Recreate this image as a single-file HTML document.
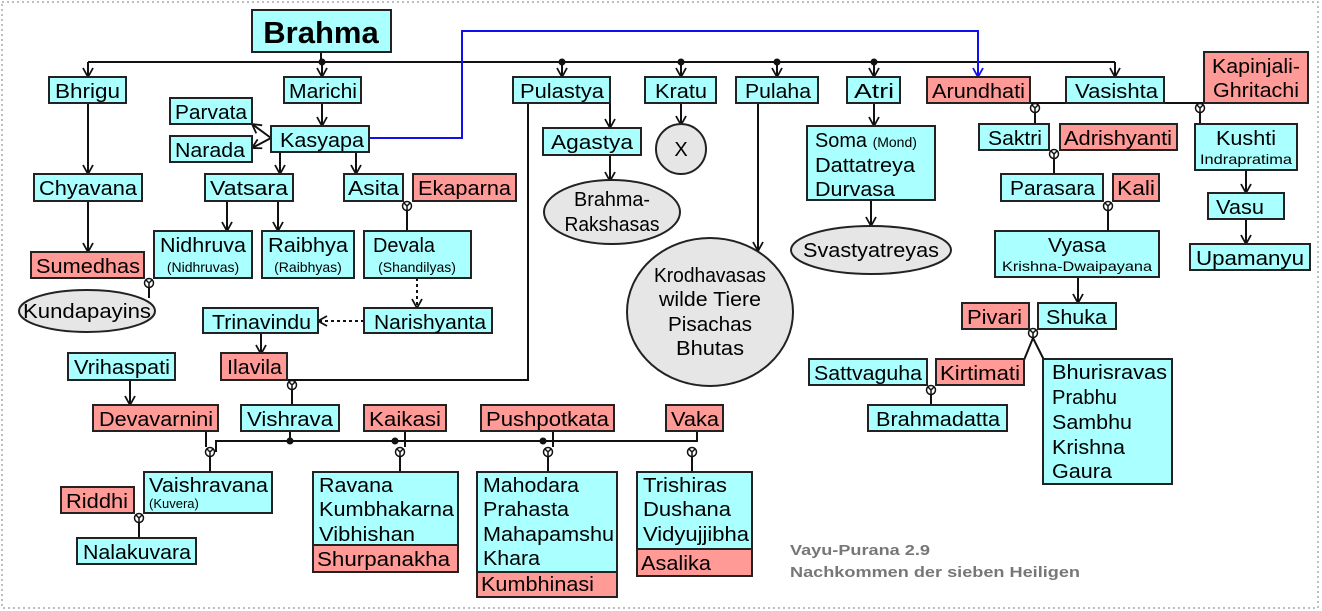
<!DOCTYPE html>
<html><head><meta charset="utf-8"><style>
html,body{margin:0;padding:0;background:#fff}
svg{display:block}
text{font-family:"Liberation Sans",Arial,sans-serif;font-size:20px;fill:#000}
.s{font-size:14px}
.c{fill:#aaffff;stroke:#222;stroke-width:2}
.r{fill:#ff9a96;stroke:#222;stroke-width:2}
.e{fill:#e6e6e6;stroke:#222;stroke-width:2}
.l{fill:none;stroke:#111;stroke-width:2}
.d{fill:none;stroke:#111;stroke-width:2;stroke-dasharray:3,3}
</style></head><body>
<svg width="1322" height="611" viewBox="0 0 1322 611" xmlns="http://www.w3.org/2000/svg">
<defs>
<marker id="a" markerWidth="12" markerHeight="12" refX="10" refY="6" orient="auto" markerUnits="userSpaceOnUse"><path d="M1,1 L10,6 L1,11" fill="none" stroke="#111" stroke-width="1.8"/></marker>
<marker id="b" markerWidth="12" markerHeight="12" refX="10" refY="6" orient="auto" markerUnits="userSpaceOnUse"><path d="M1,1 L10,6 L1,11" fill="none" stroke="#1010ee" stroke-width="1.8"/></marker>
<g id="m"><circle cx="0" cy="0" r="4.5" fill="#fff" stroke="#111" stroke-width="1.5"/><path d="M-3,-3 L0,0 L3,-3 M0,0 L0,4.5" stroke="#111" stroke-width="1.5" fill="none"/></g>
</defs>
<rect x="2" y="2" width="1316" height="606" fill="none" stroke="#aaa" stroke-width="1.5" stroke-dasharray="2,3"/>

<!-- connectors -->
<path class="l" d="M88,62 H1115"/>
<path class="l" d="M321,52 V62"/>
<g marker-end="url(#a)">
<path class="l" d="M88,62 V77"/><path class="l" d="M322,62 V77"/><path class="l" d="M562,62 V77"/>
<path class="l" d="M681,62 V77"/><path class="l" d="M777,62 V77"/><path class="l" d="M874,62 V77"/>
<path class="l" d="M1115,62 V77"/>
<path class="l" d="M88,103 V174"/><path class="l" d="M88,201 V252"/>
<path class="l" d="M322,103 V126"/><path class="l" d="M280,152 V174"/><path class="l" d="M356,152 V174"/>
<path class="l" d="M271,138 L252,124"/><path class="l" d="M271,138 L252,148"/>
<path class="l" d="M227,201 V231"/><path class="l" d="M278,201 V231"/>
<path class="l" d="M610,103 V128"/><path class="l" d="M610,155 V181"/>
<path class="l" d="M681,103 V125"/><path class="l" d="M758,103 V251"/>
<path class="l" d="M874,103 V126"/><path class="l" d="M871,200 V226"/>
<path class="l" d="M1246,170 V193"/><path class="l" d="M1246,219 V244"/>
<path class="l" d="M1078,277 V303"/>
<path class="l" d="M261,333 V354"/><path class="l" d="M130,380 V405"/>
<path class="d" d="M417,278 V308"/><path class="d" d="M364,321 H318"/>
</g>
<path d="M369,138 H462 V31 H978 V77" fill="none" stroke="#1010ee" stroke-width="2" marker-end="url(#b)"/>
<circle cx="322" cy="62" r="3.5" fill="#111"/><circle cx="562" cy="62" r="3.5" fill="#111"/>
<circle cx="681" cy="62" r="3.5" fill="#111"/><circle cx="777" cy="62" r="3.5" fill="#111"/><circle cx="874" cy="62" r="3.5" fill="#111"/>

<path class="l" d="M407,201 V231"/><use href="#m" x="407" y="206"/>
<path class="l" d="M149,278 V298"/><use href="#m" x="149" y="283"/>
<path class="l" d="M528,103 V380 H287"/><path class="l" d="M292,380 V405"/><use href="#m" x="292" y="385"/>
<path class="l" d="M206,431 V447"/><path class="l" d="M216,452 V441 H697 V431"/>
<path class="l" d="M290,431 V441"/><circle cx="290" cy="441" r="3.5" fill="#111"/>
<path class="l" d="M405,431 V447"/><circle cx="395" cy="441" r="3.5" fill="#111"/>
<path class="l" d="M553,431 V447"/><circle cx="543" cy="441" r="3.5" fill="#111"/>
<path class="l" d="M210,452 V472"/><use href="#m" x="210" y="452"/>
<path class="l" d="M400,452 V472"/><use href="#m" x="400" y="452"/>
<path class="l" d="M548,452 V472"/><use href="#m" x="548" y="452"/>
<path class="l" d="M692,452 V472"/><use href="#m" x="692" y="452"/>
<path class="l" d="M139,513 V538"/><use href="#m" x="139" y="518"/>
<path class="l" d="M1030,103 H1204"/>
<path class="l" d="M1035,108 V124"/><use href="#m" x="1035" y="108"/>
<path class="l" d="M1200,108 V124"/><use href="#m" x="1200" y="108"/>
<path class="l" d="M1054,154 V174"/><use href="#m" x="1054" y="154"/>
<path class="l" d="M1108,206 V231"/><use href="#m" x="1108" y="206"/>
<path class="l" d="M1024,360 L1033,338 L1044,360"/><use href="#m" x="1033" y="333"/>
<path class="l" d="M931,390 V405"/><use href="#m" x="931" y="390"/>

<!-- boxes -->
<rect class="c" x="252" y="10" width="139" height="42"/>
<text x="321" y="43" text-anchor="middle" style="font-size:31px;font-weight:bold">Brahma</text>
<rect class="c" x="49" y="77" width="77" height="26"/><text x="55" y="98" textLength="65" lengthAdjust="spacingAndGlyphs">Bhrigu</text>
<rect class="c" x="284" y="77" width="77" height="26"/><text x="289" y="98" textLength="68" lengthAdjust="spacingAndGlyphs">Marichi</text>
<rect class="c" x="170" y="98" width="82" height="26"/><text x="175" y="119" textLength="72" lengthAdjust="spacingAndGlyphs">Parvata</text>
<rect class="c" x="170" y="136" width="82" height="26"/><text x="175" y="157" textLength="70" lengthAdjust="spacingAndGlyphs">Narada</text>
<rect class="c" x="271" y="126" width="98" height="26"/><text x="280" y="147" textLength="84" lengthAdjust="spacingAndGlyphs">Kasyapa</text>
<rect class="c" x="34" y="174" width="108" height="27"/><text x="39" y="195" textLength="98" lengthAdjust="spacingAndGlyphs">Chyavana</text>
<rect class="c" x="205" y="174" width="88" height="27"/><text x="210" y="195" textLength="78" lengthAdjust="spacingAndGlyphs">Vatsara</text>
<rect class="c" x="344" y="174" width="59" height="27"/><text x="348" y="195" textLength="51" lengthAdjust="spacingAndGlyphs">Asita</text>
<rect class="r" x="413" y="174" width="103" height="27"/><text x="418" y="195" textLength="93" lengthAdjust="spacingAndGlyphs">Ekaparna</text>
<rect class="r" x="31" y="252" width="113" height="26"/><text x="36" y="273" textLength="104" lengthAdjust="spacingAndGlyphs">Sumedhas</text>
<rect class="c" x="154" y="231" width="98" height="47"/><text x="203" y="252" text-anchor="middle" textLength="86" lengthAdjust="spacingAndGlyphs">Nidhruva</text><text class="s" x="203" y="272" text-anchor="middle">(Nidhruvas)</text>
<rect class="c" x="262" y="231" width="92" height="47"/><text x="308" y="252" text-anchor="middle" textLength="80" lengthAdjust="spacingAndGlyphs">Raibhya</text><text class="s" x="308" y="272" text-anchor="middle">(Raibhyas)</text>
<rect class="c" x="364" y="231" width="107" height="47"/><text x="373" y="252" textLength="62" lengthAdjust="spacingAndGlyphs">Devala</text><text class="s" x="417" y="272" text-anchor="middle">(Shandilyas)</text>
<ellipse class="e" cx="87" cy="311" rx="68" ry="21"/><text x="87" y="318" text-anchor="middle" textLength="128" lengthAdjust="spacingAndGlyphs">Kundapayins</text>
<rect class="c" x="513" y="77" width="97" height="26"/><text x="520" y="98" textLength="84" lengthAdjust="spacingAndGlyphs">Pulastya</text>
<rect class="c" x="543" y="128" width="98" height="27"/><text x="551" y="149" textLength="82" lengthAdjust="spacingAndGlyphs">Agastya</text>
<ellipse class="e" cx="612" cy="212" rx="68" ry="32"/><text x="612" y="206" text-anchor="middle" textLength="76" lengthAdjust="spacingAndGlyphs">Brahma-</text><text x="612" y="231" text-anchor="middle" textLength="95" lengthAdjust="spacingAndGlyphs">Rakshasas</text>
<rect class="c" x="645" y="77" width="71" height="26"/><text x="655" y="98" textLength="52" lengthAdjust="spacingAndGlyphs">Kratu</text>
<circle class="e" cx="681" cy="149" r="25"/><text x="681" y="156" text-anchor="middle">X</text>
<rect class="c" x="736" y="77" width="82" height="26"/><text x="745" y="98" textLength="66" lengthAdjust="spacingAndGlyphs">Pulaha</text>
<ellipse class="e" cx="710" cy="312" rx="83" ry="74"/>
<text x="710" y="282" text-anchor="middle" textLength="112" lengthAdjust="spacingAndGlyphs">Krodhavasas</text>
<text x="710" y="306" text-anchor="middle" textLength="102" lengthAdjust="spacingAndGlyphs">wilde Tiere</text>
<text x="710" y="331" text-anchor="middle" textLength="84" lengthAdjust="spacingAndGlyphs">Pisachas</text>
<text x="710" y="355" text-anchor="middle" textLength="68" lengthAdjust="spacingAndGlyphs">Bhutas</text>
<rect class="c" x="847" y="77" width="53" height="26"/><text x="854" y="98" textLength="40" lengthAdjust="spacingAndGlyphs">Atri</text>
<rect class="c" x="807" y="126" width="128" height="74"/>
<text x="815" y="147"><tspan textLength="52" lengthAdjust="spacingAndGlyphs">Soma</tspan> <tspan class="s">(Mond)</tspan></text>
<text x="815" y="172" textLength="100" lengthAdjust="spacingAndGlyphs">Dattatreya</text>
<text x="815" y="196" textLength="80" lengthAdjust="spacingAndGlyphs">Durvasa</text>
<ellipse class="e" cx="871" cy="250" rx="80" ry="24"/><text x="871" y="257" text-anchor="middle" textLength="136" lengthAdjust="spacingAndGlyphs">Svastyatreyas</text>
<rect class="r" x="927" y="77" width="103" height="26"/><text x="932" y="98" textLength="93" lengthAdjust="spacingAndGlyphs">Arundhati</text>
<rect class="c" x="1066" y="77" width="98" height="26"/><text x="1075" y="98" textLength="83" lengthAdjust="spacingAndGlyphs">Vasishta</text>
<rect class="r" x="1204" y="52" width="104" height="51"/><text x="1256" y="73" text-anchor="middle" textLength="88" lengthAdjust="spacingAndGlyphs">Kapinjali-</text><text x="1256" y="97" text-anchor="middle" textLength="86" lengthAdjust="spacingAndGlyphs">Ghritachi</text>
<rect class="c" x="979" y="124" width="70" height="26"/><text x="988" y="145" textLength="54" lengthAdjust="spacingAndGlyphs">Saktri</text>
<rect class="r" x="1060" y="124" width="117" height="26"/><text x="1064" y="145" textLength="108" lengthAdjust="spacingAndGlyphs">Adrishyanti</text>
<rect class="c" x="1195" y="124" width="102" height="46"/><text x="1246" y="145" text-anchor="middle" textLength="60" lengthAdjust="spacingAndGlyphs">Kushti</text><text class="s" x="1246" y="164" text-anchor="middle" textLength="92" lengthAdjust="spacingAndGlyphs">Indrapratima</text>
<rect class="c" x="1001" y="174" width="102" height="27"/><text x="1010" y="195" textLength="85" lengthAdjust="spacingAndGlyphs">Parasara</text>
<rect class="r" x="1113" y="174" width="46" height="27"/><text x="1117" y="195" textLength="38" lengthAdjust="spacingAndGlyphs">Kali</text>
<rect class="c" x="995" y="231" width="164" height="46"/><text x="1077" y="252" text-anchor="middle" textLength="58" lengthAdjust="spacingAndGlyphs">Vyasa</text><text class="s" x="1077" y="271" text-anchor="middle" textLength="150" lengthAdjust="spacingAndGlyphs">Krishna-Dwaipayana</text>
<rect class="c" x="1208" y="193" width="76" height="26"/><text x="1216" y="214" textLength="48" lengthAdjust="spacingAndGlyphs">Vasu</text>
<rect class="c" x="1190" y="244" width="120" height="26"/><text x="1196" y="265" textLength="108" lengthAdjust="spacingAndGlyphs">Upamanyu</text>
<rect class="r" x="962" y="303" width="67" height="26"/><text x="967" y="324" textLength="55" lengthAdjust="spacingAndGlyphs">Pivari</text>
<rect class="c" x="1038" y="303" width="78" height="26"/><text x="1046" y="324" textLength="61" lengthAdjust="spacingAndGlyphs">Shuka</text>
<rect class="c" x="809" y="359" width="118" height="26"/><text x="814" y="380" textLength="108" lengthAdjust="spacingAndGlyphs">Sattvaguha</text>
<rect class="r" x="936" y="359" width="88" height="26"/><text x="940" y="380" textLength="80" lengthAdjust="spacingAndGlyphs">Kirtimati</text>
<rect class="c" x="868" y="405" width="139" height="26"/><text x="876" y="426" textLength="124" lengthAdjust="spacingAndGlyphs">Brahmadatta</text>
<rect class="c" x="1043" y="359" width="129" height="125"/>
<text x="1052" y="379" textLength="115" lengthAdjust="spacingAndGlyphs">Bhurisravas</text>
<text x="1052" y="404" textLength="65" lengthAdjust="spacingAndGlyphs">Prabhu</text>
<text x="1052" y="429" textLength="80" lengthAdjust="spacingAndGlyphs">Sambhu</text>
<text x="1052" y="454" textLength="73" lengthAdjust="spacingAndGlyphs">Krishna</text>
<text x="1052" y="478" textLength="60" lengthAdjust="spacingAndGlyphs">Gaura</text>

<rect class="c" x="203" y="308" width="115" height="25"/><text x="212" y="329" textLength="99" lengthAdjust="spacingAndGlyphs">Trinavindu</text>
<rect class="c" x="364" y="308" width="128" height="25"/><text x="374" y="329" textLength="112" lengthAdjust="spacingAndGlyphs">Narishyanta</text>
<rect class="c" x="68" y="353" width="107" height="27"/><text x="74" y="374" textLength="96" lengthAdjust="spacingAndGlyphs">Vrihaspati</text>
<rect class="r" x="221" y="353" width="66" height="27"/><text x="227" y="374" textLength="55" lengthAdjust="spacingAndGlyphs">Ilavila</text>
<rect class="r" x="93" y="405" width="125" height="26"/><text x="99" y="426" textLength="114" lengthAdjust="spacingAndGlyphs">Devavarnini</text>
<rect class="c" x="241" y="405" width="98" height="26"/><text x="247" y="426" textLength="86" lengthAdjust="spacingAndGlyphs">Vishrava</text>
<rect class="r" x="364" y="405" width="82" height="26"/><text x="369" y="426" textLength="72" lengthAdjust="spacingAndGlyphs">Kaikasi</text>
<rect class="r" x="481" y="405" width="133" height="26"/><text x="486" y="426" textLength="123" lengthAdjust="spacingAndGlyphs">Pushpotkata</text>
<rect class="r" x="666" y="405" width="57" height="26"/><text x="671" y="426" textLength="48" lengthAdjust="spacingAndGlyphs">Vaka</text>
<rect class="c" x="144" y="472" width="128" height="41"/><text x="149" y="492" textLength="119" lengthAdjust="spacingAndGlyphs">Vaishravana</text><text x="149" y="508" style="font-size:13px">(Kuvera)</text>
<rect class="r" x="61" y="487" width="73" height="26"/><text x="66" y="508" textLength="62" lengthAdjust="spacingAndGlyphs">Riddhi</text>
<rect class="c" x="77" y="538" width="119" height="26"/><text x="83" y="559" textLength="108" lengthAdjust="spacingAndGlyphs">Nalakuvara</text>
<rect class="c" x="313" y="472" width="145" height="73"/>
<text x="319" y="492" textLength="74" lengthAdjust="spacingAndGlyphs">Ravana</text>
<text x="319" y="516" textLength="135" lengthAdjust="spacingAndGlyphs">Kumbhakarna</text>
<text x="319" y="541" textLength="96" lengthAdjust="spacingAndGlyphs">Vibhishan</text>
<rect class="r" x="313" y="545" width="145" height="27"/><text x="317" y="566" textLength="133" lengthAdjust="spacingAndGlyphs">Shurpanakha</text>
<rect class="c" x="477" y="472" width="140" height="100"/>
<text x="483" y="492" textLength="96" lengthAdjust="spacingAndGlyphs">Mahodara</text>
<text x="483" y="516" textLength="86" lengthAdjust="spacingAndGlyphs">Prahasta</text>
<text x="483" y="541" textLength="131" lengthAdjust="spacingAndGlyphs">Mahapamshu</text>
<text x="483" y="565" textLength="57" lengthAdjust="spacingAndGlyphs">Khara</text>
<rect class="r" x="477" y="572" width="140" height="25"/><text x="481" y="591" textLength="113" lengthAdjust="spacingAndGlyphs">Kumbhinasi</text>
<rect class="c" x="637" y="472" width="115" height="77"/>
<text x="643" y="492" textLength="84" lengthAdjust="spacingAndGlyphs">Trishiras</text>
<text x="643" y="516" textLength="88" lengthAdjust="spacingAndGlyphs">Dushana</text>
<text x="643" y="541" textLength="106" lengthAdjust="spacingAndGlyphs">Vidyujjibha</text>
<rect class="r" x="637" y="549" width="115" height="27"/><text x="641" y="570" textLength="70" lengthAdjust="spacingAndGlyphs">Asalika</text>

<text x="790" y="555" style="font-size:15px;font-weight:bold;fill:#777" textLength="140" lengthAdjust="spacingAndGlyphs">Vayu-Purana 2.9</text>
<text x="790" y="577" style="font-size:15px;font-weight:bold;fill:#777" textLength="290" lengthAdjust="spacingAndGlyphs">Nachkommen der sieben Heiligen</text>
</svg>
</body></html>
